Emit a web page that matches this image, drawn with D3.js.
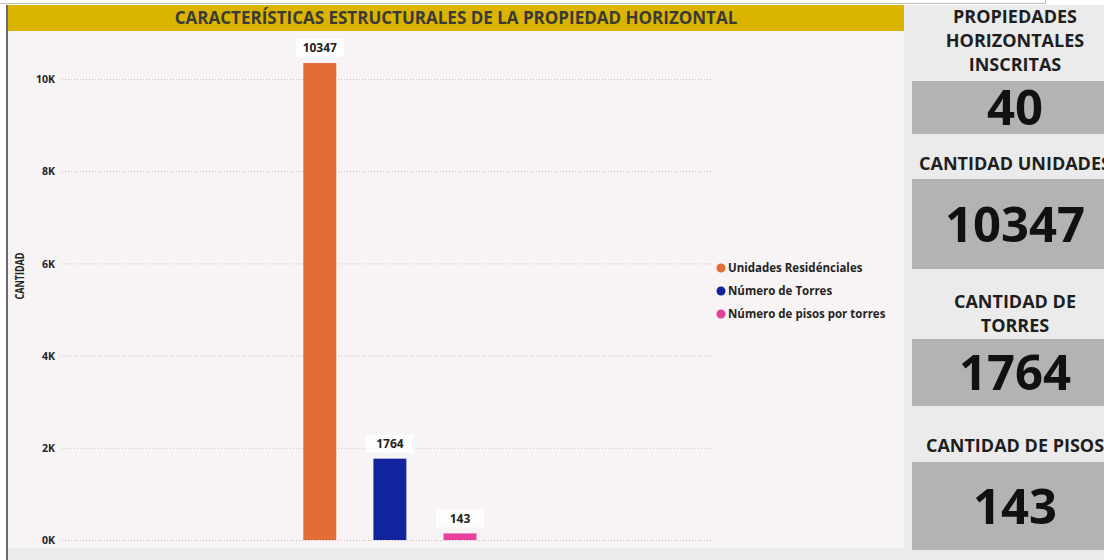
<!DOCTYPE html>
<html><head><meta charset="utf-8">
<script src="https://cdn.jsdelivr.net/npm/d3@7"></script>
<style>
html,body{margin:0;padding:0;background:#fff;overflow:hidden;}
svg{display:block;font-family:"Open Sans",sans-serif;}
</style></head>
<body>
<svg id="c" width="1104" height="560"></svg>
<script>
const category = ["Propiedad Horizontal"];
const seriesNames = ["Unidades Residénciales", "Número de Torres", "Número de pisos por torres"];
const seriesValues = [10347, 1764, 143];
const seriesColors = ["#e66c37", "#12239e", "#e83e9c"];
const yTicks = [0, 2000, 4000, 6000, 8000, 10000];
const kpiTitles = [["PROPIEDADES", "HORIZONTALES", "INSCRITAS"], ["CANTIDAD UNIDADES"], ["CANTIDAD DE", "TORRES"], ["CANTIDAD DE PISOS"]];
const kpiValues = [40, 10347, 1764, 143];

const svg = d3.select("#c");

// top strip
svg.append("rect").attr("x",0).attr("y",0).attr("width",1104).attr("height",560).attr("fill","#fff");
svg.append("line").attr("x1",0).attr("x2",1045).attr("y1",3.5).attr("y2",3.5).attr("stroke","#bdbdbd");
svg.append("line").attr("x1",1045.5).attr("x2",1045.5).attr("y1",0).attr("y2",4).attr("stroke","#bdbdbd");

// chart panel
svg.append("rect").attr("x",8).attr("y",31).attr("width",896).attr("height",518).attr("fill","#f8f4f6");
svg.append("rect").attr("x",8).attr("y",548).attr("width",896).attr("height",12).attr("fill","#ececec");
svg.append("rect").attr("x",6).attr("y",5).attr("width",2).attr("height",555).attr("fill","#6b6b6b");
svg.append("rect").attr("x",8).attr("y",5).attr("width",896).attr("height",26).attr("fill","#dbb400");
svg.append("text").attr("x",456).attr("y",24).attr("text-anchor","middle")
  .attr("font-size",17).attr("font-weight",700).attr("fill","#3a3a3a")
  .text("CARACTERÍSTICAS ESTRUCTURALES DE LA PROPIEDAD HORIZONTAL");

// scales
const plotL = 62, plotR = 713;
const y = d3.scaleLinear().domain([0, 10000]).range([540, 79]);
const x0 = d3.scaleBand().domain(category).range([plotL, plotR]).paddingInner(0).paddingOuter(1.38).align(0.505);
const x1 = d3.scaleBand().domain(seriesNames).range([0, x0.bandwidth()]).paddingInner(0.53).paddingOuter(0);

// grid
const g = svg.append("g");
g.selectAll("line.grid").data(yTicks).join("line")
  .attr("x1", plotL).attr("x2", plotR)
  .attr("y1", d => y(d) + 0.5).attr("y2", d => y(d) + 0.5)
  .attr("stroke", "#d8b4be").attr("stroke-dasharray", "1,2");

// axis labels
const yAxis = d3.axisLeft(y).tickValues(yTicks).tickFormat(d => (d/1000) + "K").tickSize(0).tickPadding(0);
const ax = svg.append("g").attr("transform", "translate(55,0)").call(yAxis);
ax.select(".domain").remove();
ax.selectAll("text").attr("font-size", 10.5).attr("font-weight", 700).attr("fill", "#252423")
  .attr("font-family", "'Open Sans',sans-serif").attr("dy", "0.35em");

svg.append("text").attr("transform", "translate(24,276) rotate(-90)").attr("text-anchor", "middle")
  .attr("font-size", 11.5).attr("font-weight", 700).attr("fill", "#252423")
  .attr("textLength", 47).attr("lengthAdjust", "spacingAndGlyphs").text("CANTIDAD");

// bars
const data = seriesNames.map((s, i) => ({s, v: seriesValues[i], c: seriesColors[i]}));
const bg = svg.append("g").attr("transform", `translate(${x0(category[0])},0)`);
bg.selectAll("rect.bar").data(data).join("rect")
  .attr("x", d => x1(d.s)).attr("width", x1.bandwidth())
  .attr("y", d => y(d.v)).attr("height", d => y(0) - y(d.v)).attr("fill", d => d.c);

// data labels
const lbl = bg.selectAll("g.lbl").data(data).join("g")
  .attr("transform", d => `translate(${x1(d.s) + x1.bandwidth()/2},${y(d.v) - 15})`);
lbl.append("rect").attr("x", -24).attr("y", -9).attr("width", 48).attr("height", 18).attr("fill", "#ffffff").attr("opacity", 0.8);
lbl.append("text").attr("text-anchor", "middle").attr("dy", "0.35em")
  .attr("font-size", 12).attr("font-weight", 700).attr("fill", "#252423").text(d => d.v);

// legend
const leg = svg.append("g").selectAll("g").data(data).join("g")
  .attr("transform", (d, i) => `translate(721,${268 + i*23})`);
leg.append("circle").attr("r", 4.5).attr("fill", d => d.c);
leg.append("text").attr("x", 7).attr("dy", "0.35em").attr("font-size", 11.5).attr("font-weight", 700)
  .attr("fill", "#252423").text(d => d.s);

// KPI panel
svg.append("rect").attr("x", 904).attr("y", 5).attr("width", 200).attr("height", 555).attr("fill", "#ebebeb");
const kpiTitleY = [[17, 41, 65], [164], [302, 326], [446]];
const boxes = [[81, 134], [179, 269], [339, 406], [462, 550]];
kpiTitles.forEach((lines, i) => {
  lines.forEach((t, j) => {
    svg.append("text").attr("x", 1015).attr("y", kpiTitleY[i][j]).attr("dy", "0.35em").attr("text-anchor", "middle")
      .attr("font-size", 18).attr("font-weight", 700).attr("fill", "#1e1e1e").text(t);
  });
  svg.append("rect").attr("x", 912).attr("y", boxes[i][0]).attr("width", 192).attr("height", boxes[i][1] - boxes[i][0]).attr("fill", "#b3b3b3");
  svg.append("text").attr("x", 1015).attr("y", (boxes[i][0] + boxes[i][1]) / 2).attr("dy", "0.36em").attr("text-anchor", "middle")
    .attr("font-size", 49).attr("font-weight", 700).attr("fill", "#111").text(kpiValues[i]);
});
</script>
</body></html>
